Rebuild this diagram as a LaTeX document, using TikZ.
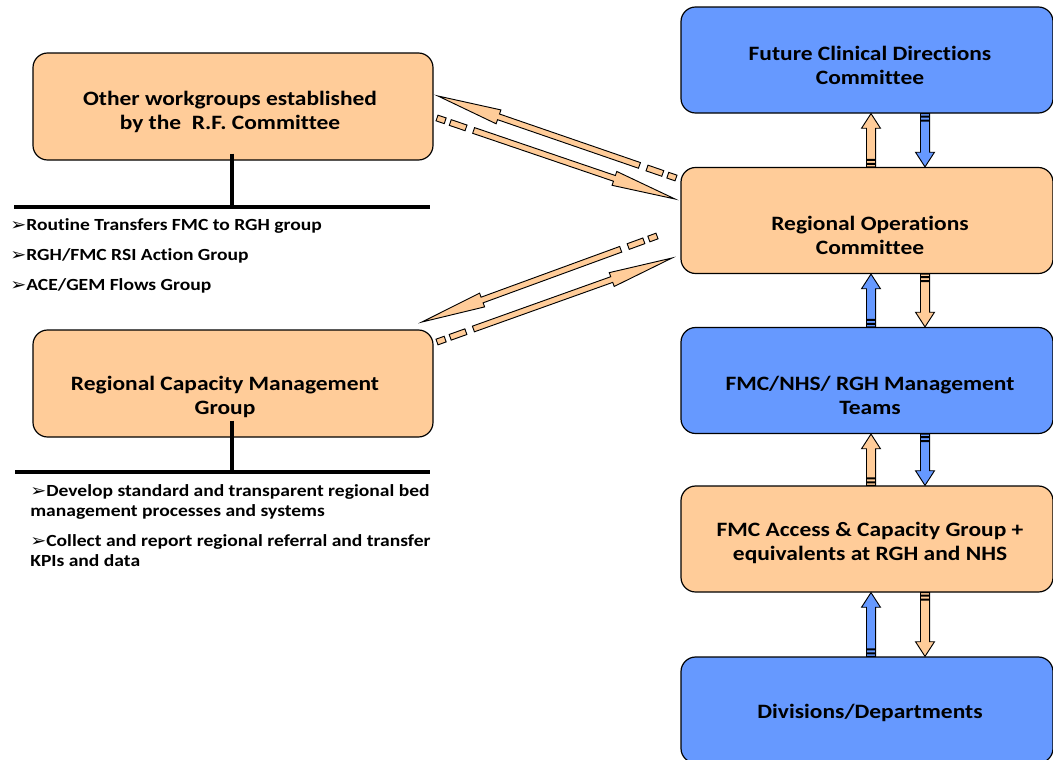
\documentclass[tikz,border=0pt]{standalone}
\usepackage{fontspec}
\setmainfont{Carlito}[Ligatures=NoCommon]
\newfontfamily\symfont{DejaVu Sans}
\usetikzlibrary{calc}
\definecolor{boxorange}{HTML}{FFCC99}
\definecolor{boxblue}{HTML}{6699FF}
\newcommand\bulsym{{\symfont\mdseries\fontsize{12.5}{12}\selectfont ➢}}
% block arrow: tail, head, fill colour; sizes from \bw \bhw \bhl \bda \bdb \bdc \bs
\newcommand\blockarrow[3]{%
 \filldraw[fill=#3, draw=black, line width=0.7pt]
  ($(#1)!0pt!(#2)!\bw!90:(#2)$) -- ($(#1)!\bda!(#2)!\bw!90:(#2)$) -- ($(#1)!\bda!(#2)!\bw!-90:(#2)$) -- ($(#1)!0pt!(#2)!\bw!-90:(#2)$) -- cycle
  ($(#1)!\bdb!(#2)!\bw!90:(#2)$) -- ($(#1)!\bdc!(#2)!\bw!90:(#2)$) -- ($(#1)!\bdc!(#2)!\bw!-90:(#2)$) -- ($(#1)!\bdb!(#2)!\bw!-90:(#2)$) -- cycle
  ($(#1)!\bs!(#2)!\bw!90:(#2)$) -- ($(#2)!\bhl!(#1)!\bw!-90:(#1)$) -- ($(#2)!\bhl!(#1)!\bhw!-90:(#1)$) -- (#2) -- ($(#2)!\bhl!(#1)!\bhw!90:(#1)$) -- ($(#2)!\bhl!(#1)!\bw!90:(#1)$) -- ($(#1)!\bs!(#2)!\bw!-90:(#2)$) -- cycle;
}
\newcommand\vertsizes{\def\bw{3.4pt}\def\bhw{7.1pt}\def\bhl{11pt}\def\bda{1.9pt}\def\bdb{2.7pt}\def\bdc{4.9pt}\def\bs{5.6pt}}
\newcommand\diagsizes{\def\bw{2.25pt}\def\bhw{5.5pt}\def\bhl{48pt}\def\bda{6.5pt}\def\bdb{10.5pt}\def\bdc{23pt}\def\bs{29pt}}
\begin{document}
\begin{tikzpicture}[x=0.75pt,y=-0.75pt,
 box/.style={draw=black, line width=0.9pt, rounded corners=11pt, inner sep=0pt},
 lbox/.style={box, fill=boxorange, minimum width=300pt, minimum height=80.25pt},
 rbox/.style={box, minimum width=279pt, minimum height=79.5pt},
 txt/.style={font=\bfseries\fontsize{15.3}{18}\selectfont, align=center, inner sep=0pt, xscale=1.15},
 bul/.style={font=\bfseries\fontsize{12.75}{15}\selectfont, align=left, inner sep=0pt, xscale=1.15, anchor=base west},
 bar/.style={line width=2.3pt},
]
\useasboundingbox (0,0) rectangle (1053,760);
% left boxes
\node[lbox] (ow) at (233,106.5) {};
\node[txt] (owt) at (230,111.5) {Other workgroups established\\by the\ \ R.F. Committee};
\node[lbox] (rcm) at (233,383.5) {};
\node[txt] (rcmt) at (225,397) {Regional Capacity Management\\Group};
% right boxes
\node[rbox, fill=boxblue] (fcd) at (867,60) {};
\node[txt] (fcdt) at (870,65) {Future Clinical Directions\\Committee};
\node[rbox, fill=boxorange] (ro) at (867,220.5) {};
\node[txt] (rot) at (870,235) {Regional Operations\\Committee};
\node[rbox, fill=boxblue] (fmc) at (867,380.5) {};
\node[txt] (fmct) at (870,395) {FMC/NHS/ RGH Management\\Teams};
\node[rbox, fill=boxorange] (acc) at (867,539) {};
\node[txt] (acct) at (870,543) {FMC Access \& Capacity Group +\\equivalents at RGH and NHS};
\node[rbox, fill=boxblue] (div) at (867,710) {};
\node[txt] (divt) at (870,713) {Divisions/Departments};
% bars under left boxes
\coordinate (owbar) at (232,207);
\coordinate (owL) at (14,207);
\coordinate (owR) at (430,207);
\draw[bar] ($(ow.south)+(-1,-7)$) -- (owbar);
\draw[bar] (owL) -- (owR);
\coordinate (rcmbar) at (232,472);
\coordinate (rcmL) at (15,472);
\coordinate (rcmR) at (430,472);
\draw[bar] ($(rcm.south)+(-1,-17)$) -- (rcmbar);
\draw[bar] (rcmL) -- (rcmR);
% bullet texts
\node[bul] (b1) at (10,230) {\bulsym Routine Transfers FMC to RGH group};
\node[bul] (b2) at (10,260) {\bulsym RGH/FMC RSI Action Group};
\node[bul] (b3) at (10,290) {\bulsym ACE/GEM Flows Group};
\node[bul] (b4) at (30,516) {\bulsym Develop standard and transparent regional bed\\management processes and systems};
\node[bul] (b5) at (30,566) {\bulsym Collect and report regional referral and transfer\\KPIs and data};
% vertical block arrows
\vertsizes
\coordinate (u1t) at ($(ro.north)+(4,0)$);  \coordinate (u1h) at ($(fcd.south)+(4,0)$);
\coordinate (d1t) at ($(fcd.south)+(58,0)$); \coordinate (d1h) at ($(ro.north)+(58,0)$);
\coordinate (u2t) at ($(fmc.north)+(4,0)$);  \coordinate (u2h) at ($(ro.south)+(4,0)$);
\coordinate (d2t) at ($(ro.south)+(58,0)$);  \coordinate (d2h) at ($(fmc.north)+(58,0)$);
\coordinate (u3t) at ($(acc.north)+(4,0)$);  \coordinate (u3h) at ($(fmc.south)+(4,0)$);
\coordinate (d3t) at ($(fmc.south)+(58,0)$); \coordinate (d3h) at ($(acc.north)+(58,0)$);
\coordinate (u4t) at ($(div.north)+(4,0)$);  \coordinate (u4h) at ($(acc.south)+(4,0)$);
\coordinate (d4t) at ($(acc.south)+(58,0)$); \coordinate (d4h) at ($(div.north)+(58,0)$);
\blockarrow{u1t}{u1h}{boxorange}
\blockarrow{d1t}{d1h}{boxblue}
\blockarrow{u2t}{u2h}{boxblue}
\blockarrow{d2t}{d2h}{boxorange}
\blockarrow{u3t}{u3h}{boxorange}
\blockarrow{d3t}{d3h}{boxblue}
\blockarrow{u4t}{u4h}{boxblue}
\blockarrow{d4t}{d4h}{boxorange}
% diagonal block arrows
\diagsizes
\coordinate (g1t) at (676,178); \coordinate (g1h) at (438,96);
\coordinate (g2t) at (437,118); \coordinate (g2h) at (675,199);
\coordinate (g3t) at (657,236); \coordinate (g3h) at (422,322);
\coordinate (g4t) at (437,342); \coordinate (g4h) at (672,258);
\blockarrow{g1t}{g1h}{boxorange}
\blockarrow{g2t}{g2h}{boxorange}
\blockarrow{g3t}{g3h}{boxorange}
\blockarrow{g4t}{g4h}{boxorange}
\end{tikzpicture}
\end{document}
